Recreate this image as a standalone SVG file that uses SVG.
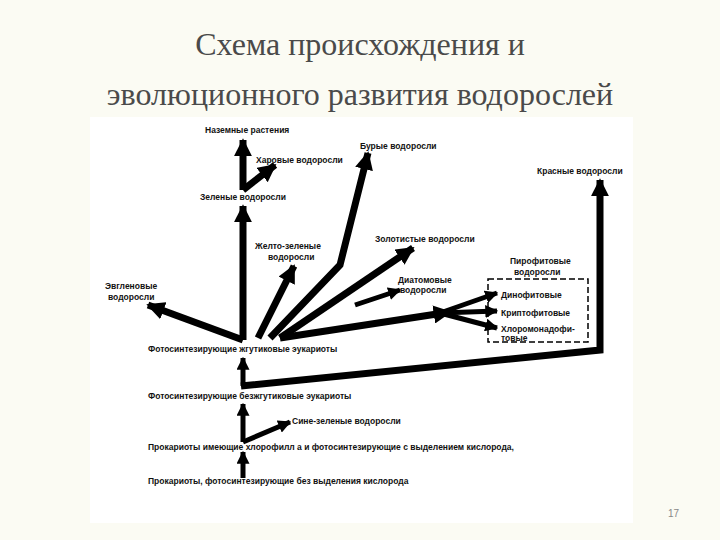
<svg xmlns="http://www.w3.org/2000/svg" width="720" height="540" viewBox="0 0 720 540">
<style>
.t{font-family:"Liberation Sans",Arial,sans-serif;font-size:8.5px;font-weight:bold;fill:#111}
.title{font-family:"Liberation Serif","Times New Roman",serif;font-size:32px;fill:#4a4a4a;text-anchor:middle}
.a{stroke:#000;stroke-width:7;fill:none;stroke-linejoin:miter;marker-end:url(#ah)}
.b{stroke:#000;stroke-width:5;fill:none;marker-end:url(#ah)}
</style>
<defs>
<marker id="ah" viewBox="0 0 10 10" refX="9" refY="5" markerWidth="2.6" markerHeight="2.6" orient="auto" markerUnits="strokeWidth">
<path d="M0,0 L10,5 L0,10 Z" fill="#000"/>
</marker>
</defs>
<rect width="720" height="540" fill="#fbfbf3"/>
<rect x="90" y="117" width="543" height="406" fill="#fff"/>
<text class="title" x="360" y="55">Схема происхождения и</text>
<text class="title" x="360" y="105">эволюционного развития водорослей</text>
<text x="668" y="517" style="font-family:'Liberation Sans',sans-serif;font-size:10px;fill:#888">17</text>
<g id="connectors">
<path class="b" d="M243,478 L243,452"/>
<path class="b" d="M243,442 L243,404"/>
<path class="b" d="M243,442 L290,422"/>
<path class="b" d="M243,386 L243,358"/>
<path class="a" d="M241,386 L600,350 L600,180"/>
<path class="a" d="M243,340 L243,206"/>
<path class="a" d="M243,190 L243,140"/>
<path class="a" d="M243,190 L275,165"/>
<path class="a" d="M243,340 L148,305"/>
<path class="a" d="M258,338 L294,266"/>
<path class="a" d="M270,338 L340,265 L368,153"/>
<path class="a" d="M280,338 L413,248"/>
<path class="b" d="M355,305 L400,290"/>
<path class="a" d="M280,338 L450,312"/>
<path class="b" d="M440,313 L497,293"/>
<path class="b" d="M440,313 L497,311"/>
<path class="b" d="M440,313 L497,328"/>
</g>
<rect x="488" y="279" width="100" height="63" fill="none" stroke="#000" stroke-width="1.5" stroke-dasharray="6,3"/>
<g id="labels">
<text class="t" x="205" y="133">Наземные растения</text>
<text class="t" x="256" y="163">Харовые водоросли</text>
<text class="t" x="360" y="149">Бурые водоросли</text>
<text class="t" x="537" y="174">Красные водоросли</text>
<text class="t" x="200" y="200">Зеленые водоросли</text>
<text class="t" x="255" y="249">Желто-зеленые</text>
<text class="t" x="268" y="260">водоросли</text>
<text class="t" x="375" y="242">Золотистые водоросли</text>
<text class="t" x="510" y="264">Пирофитовые</text>
<text class="t" x="514" y="275">водоросли</text>
<text class="t" x="398" y="283">Диатомовые</text>
<text class="t" x="400" y="293">водоросли</text>
<text class="t" x="105" y="289">Эвгленовые</text>
<text class="t" x="108" y="300">водоросли</text>
<text class="t" x="501" y="298">Динофитовые</text>
<text class="t" x="501" y="316">Криптофитовые</text>
<text class="t" x="501" y="332">Хлоромонадофи-</text>
<text class="t" x="501" y="341">товые</text>
<text class="t" x="148" y="352">Фотосинтезирующие жгутиковые эукариоты</text>
<text class="t" x="148" y="399">Фотосинтезирующие безжгутиковые эукариоты</text>
<text class="t" x="292" y="424">Сине-зеленые водоросли</text>
<text class="t" x="148" y="450">Прокариоты имеющие хлорофилл a и фотосинтезирующие с выделением кислорода,</text>
<text class="t" x="148" y="484">Прокариоты, фотосинтезирующие без выделения кислорода</text>
</g>
</svg>
